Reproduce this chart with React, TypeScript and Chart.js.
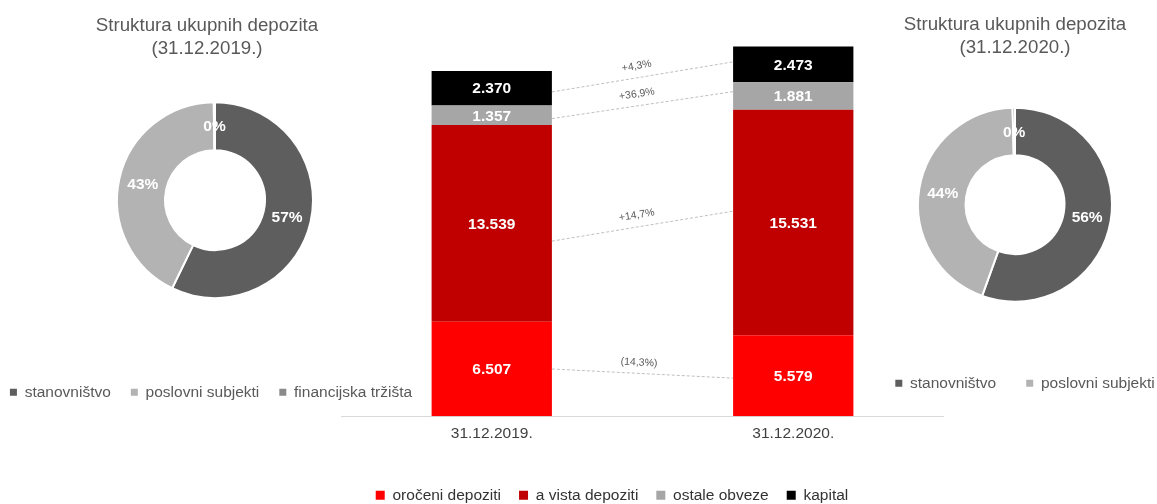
import { useEffect, useRef } from 'react';
import { Chart, registerables } from 'chart.js';

Chart.register(...registerables);
Chart.defaults.font.family = '"Liberation Sans", Arial, Helvetica, sans-serif';

// ---------- Data ----------
const BAR_CATEGORIES = ['31.12.2019.', '31.12.2020.'];
const SERIES_NAMES = ['oročeni depoziti', 'a vista depoziti', 'ostale obveze', 'kapital'];
const OROCENI = [6507, 5579];
const A_VISTA = [13539, 15531];
const OSTALE = [1357, 1881];
const KAPITAL = [2370, 2473];
const CHANGE_LABELS = ['(14,3%)', '+14,7%', '+36,9%', '+4,3%'];

const DONUT_LABELS = ['stanovništvo', 'poslovni subjekti', 'financijska tržišta'];
const DONUT_2019 = [57.2, 42.6, 0.2];
const DONUT_2020 = [55.5, 44.1, 0.4];
const TITLE_2019 = ['Struktura ukupnih depozita', '(31.12.2019.)'];
const TITLE_2020 = ['Struktura ukupnih depozita', '(31.12.2020.)'];

// ---------- Styles ----------
const SERIES_COLORS = ['#ff0000', '#c00000', '#a6a6a6', '#000000'];
const DONUT_COLORS = ['#5e5e5e', '#b3b3b3', '#8a8a8a'];
// where each connector line meets its segment (fraction from segment top) on the left / right bar
const CONNECTOR_ANCHORS = [
  [0.5, 0.53],
  [0.59, 0.45],
  [0.67, 0.34],
  [0.61, 0.43],
];
const FONT = '"Liberation Sans", Arial, Helvetica, sans-serif';

const fmt = (n: number) => String(n).replace(/\B(?=(\d{3})+(?!\d))/g, '.');

const barValueLabels = {
  id: 'barValueLabels',
  afterDatasetsDraw(chart: any) {
    const ctx = chart.ctx;
    ctx.save();
    ctx.font = `bold 15.5px ${FONT}`;
    ctx.fillStyle = '#ffffff';
    ctx.textAlign = 'center';
    ctx.textBaseline = 'middle';
    chart.data.datasets.forEach((ds: any, i: number) => {
      const meta = chart.getDatasetMeta(i);
      meta.data.forEach((el: any, j: number) => {
        const p = el.getProps(['x', 'y', 'base'], true);
        ctx.fillText(fmt(ds.data[j]), p.x, (p.y + p.base) / 2 + 1);
      });
    });
    ctx.restore();
  },
};

const connectors = {
  id: 'connectors',
  afterDatasetsDraw(chart: any) {
    const ctx = chart.ctx;
    ctx.save();
    chart.data.datasets.forEach((_ds: any, i: number) => {
      const meta = chart.getDatasetMeta(i);
      const a = meta.data[0].getProps(['x', 'y', 'base', 'width'], true);
      const b = meta.data[1].getProps(['x', 'y', 'base', 'width'], true);
      const [fa, fb] = CONNECTOR_ANCHORS[i];
      const x0 = a.x + a.width / 2;
      const y0 = a.y + (a.base - a.y) * fa;
      const x1 = b.x - b.width / 2;
      const y1 = b.y + (b.base - b.y) * fb;
      ctx.setLineDash([3, 2]);
      ctx.strokeStyle = '#bfbfbf';
      ctx.lineWidth = 1;
      ctx.beginPath();
      ctx.moveTo(x0, y0);
      ctx.lineTo(x1, y1);
      ctx.stroke();
      const ang = Math.atan2(y1 - y0, x1 - x0);
      ctx.save();
      ctx.translate((x0 + x1) / 2 - 4, (y0 + y1) / 2);
      ctx.rotate(ang);
      ctx.setLineDash([]);
      ctx.fillStyle = '#595959';
      ctx.font = `10.5px ${FONT}`;
      ctx.textAlign = 'center';
      ctx.textBaseline = 'middle';
      ctx.fillText(CHANGE_LABELS[i], 0, -11);
      ctx.restore();
    });
    ctx.restore();
  },
};

const donutLabels = {
  id: 'donutLabels',
  afterDatasetsDraw(chart: any) {
    const ctx = chart.ctx;
    const vals = chart.data.datasets[0].data as number[];
    const total = vals.reduce((s, v) => s + v, 0);
    ctx.save();
    ctx.font = `bold 15.5px ${FONT}`;
    ctx.fillStyle = '#ffffff';
    ctx.textAlign = 'center';
    ctx.textBaseline = 'middle';
    chart.getDatasetMeta(0).data.forEach((el: any, i: number) => {
      const p = el.tooltipPosition(true);
      ctx.fillText(Math.round((vals[i] / total) * 100) + '%', p.x, p.y + 1);
    });
    ctx.restore();
  },
};

function boxShift(titleDx: number, legendDx: number) {
  return {
    id: 'boxShift',
    afterLayout(chart: any) {
      const t = chart.titleBlock;
      if (t) {
        t.left += titleDx;
        t.right += titleDx;
      }
      const l = chart.legend;
      if (l) {
        l.left += legendDx;
        l.right += legendDx;
      }
    },
  };
}

function donutConfig(
  values: number[],
  title: string[],
  opts: {
    radius: number;
    titlePad: { top: number; bottom: number };
    legendGap: number;
    legendPad: number;
    items: number;
    titleDx: number;
    legendDx: number;
  }
): any {
  return {
    type: 'doughnut',
    data: {
      labels: DONUT_LABELS,
      datasets: [
        {
          data: values,
          backgroundColor: DONUT_COLORS,
          borderColor: '#ffffff',
          borderWidth: 2,
          radius: opts.radius,
          cutout: '51%',
        },
      ],
    },
    options: {
      responsive: false,
      animation: false,
      events: [],
      layout: { padding: 0 },
      plugins: {
        tooltip: { enabled: false },
        title: {
          display: true,
          text: title,
          color: '#595959',
          font: { size: 18.7, weight: 'normal', lineHeight: '23px' },
          padding: opts.titlePad,
        },
        legend: {
          display: true,
          position: 'bottom',
          title: {
            display: true,
            text: ' ',
            font: { size: 10, lineHeight: 1 },
            padding: { top: opts.legendGap, bottom: 0 },
          },
          labels: {
            boxWidth: 7,
            boxHeight: 7,
            padding: opts.legendPad,
            color: '#595959',
            font: { size: 15.5 },
            generateLabels: (chart: any) =>
              chart.data.labels.map((label: string, i: number) => ({
                text: label,
                fillStyle: DONUT_COLORS[i],
                strokeStyle: DONUT_COLORS[i],
                lineWidth: 0,
                hidden: false,
                index: i,
                fontColor: '#595959',
              })),
            filter: (item: any) => item.index < opts.items,
          },
        },
      },
    },
    plugins: [donutLabels, boxShift(opts.titleDx, opts.legendDx)],
  };
}

export default function App() {
  const barRef = useRef<HTMLCanvasElement>(null);
  const d1Ref = useRef<HTMLCanvasElement>(null);
  const d2Ref = useRef<HTMLCanvasElement>(null);

  useEffect(() => {
    const seriesData = [OROCENI, A_VISTA, OSTALE, KAPITAL];
    const bar = new Chart(barRef.current as HTMLCanvasElement, {
      type: 'bar',
      data: {
        labels: BAR_CATEGORIES,
        datasets: SERIES_NAMES.map((name, i) => ({
          label: name,
          data: seriesData[i],
          backgroundColor: SERIES_COLORS[i],
          borderWidth: 0,
          barPercentage: 0.399,
          categoryPercentage: 1,
        })),
      },
      options: {
        responsive: false,
        animation: false,
        events: [],
        layout: { padding: 0 },
        scales: {
          x: {
            stacked: true,
            grid: { display: false, drawTicks: false },
            border: { display: true, color: '#d9d9d9', width: 1 },
            ticks: { color: '#404040', font: { size: 15.5 }, padding: 7.7 },
          },
          y: {
            stacked: true,
            min: 0,
            max: 28660,
            display: true,
            grid: { display: false, drawTicks: false },
            border: { display: false },
            ticks: { display: false },
            afterFit: (scale: any) => {
              scale.width = 61;
            },
          },
        },
        plugins: {
          tooltip: { enabled: false },
          legend: {
            display: true,
            position: 'bottom',
            title: {
              display: true,
              text: ' ',
              font: { size: 10, lineHeight: 1 },
              padding: { top: 9.25, bottom: 0 },
            },
            labels: {
              boxWidth: 9,
              boxHeight: 9,
              padding: 18,
              color: '#333333',
              font: { size: 15.5 },
            },
          },
        },
      } as any,
      plugins: [connectors, barValueLabels],
    });

    const d1 = new Chart(
      d1Ref.current as HTMLCanvasElement,
      donutConfig(DONUT_2019, TITLE_2019, {
        radius: 98,
        titlePad: { top: 14.5, bottom: 8 },
        legendGap: 22.75,
        legendPad: 20,
        items: 3,
        titleDx: -8,
        legendDx: -4,
      })
    );
    const d2 = new Chart(
      d2Ref.current as HTMLCanvasElement,
      donutConfig(DONUT_2020, TITLE_2020, {
        radius: 97,
        titlePad: { top: 13.5, bottom: 15 },
        legendGap: 0.75,
        legendPad: 30,
        items: 2,
        titleDx: 0,
        legendDx: 10,
      })
    );

    return () => {
      bar.destroy();
      d1.destroy();
      d2.destroy();
    };
  }, []);

  return (
    <div
      style={{
        position: 'fixed',
        left: 0,
        top: 0,
        width: 1157,
        height: 504,
        overflow: 'hidden',
        background: '#ffffff',
      }}
    >
      <canvas ref={barRef} width={664} height={513} style={{ position: 'absolute', left: 280, top: 0 }} />
      <canvas ref={d1Ref} width={450} height={410} style={{ position: 'absolute', left: -10, top: 0 }} />
      <canvas ref={d2Ref} width={330} height={401} style={{ position: 'absolute', left: 850, top: 0 }} />
    </div>
  );
}
